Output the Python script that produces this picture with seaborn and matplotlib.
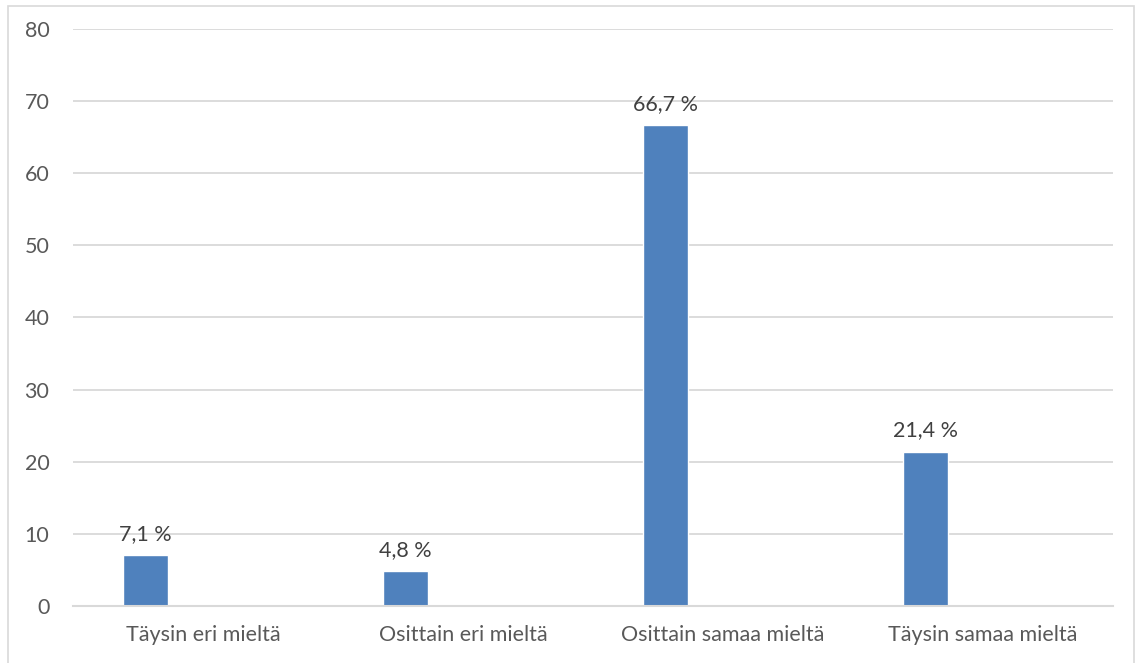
import matplotlib
matplotlib.use("Agg")
import matplotlib.pyplot as plt
import seaborn as sns
import pandas as pd
import numpy as np

# data
categories = ["Täysin eri mieltä", "Osittain eri mieltä", "Osittain samaa mieltä", "Täysin samaa mieltä"]
values = [7.1, 4.8, 66.7, 21.4]
y_ticks = [0, 10, 20, 30, 40, 50, 60, 70, 80]

BAR_COLOR = "#4f81bd"
GRID_COLOR = "#d9d9d9"
TEXT_COLOR = "#595959"
LABEL_COLOR = "#404040"

sns.set_style("white")
plt.rcParams["font.family"] = ["Lato", "DejaVu Sans"]

# Excel style: second empty series puts the real bar left of the category centre
df = pd.DataFrame({
    "kategoria": categories * 2,
    "arvo": values + [np.nan] * len(values),
    "sarja": ["a"] * len(values) + ["b"] * len(values),
})

fig = plt.figure(figsize=(11.43, 6.63), dpi=100)
ax = fig.add_axes([0.0639, 0.0860, 0.9099, 0.8703])

sns.barplot(data=df, x="kategoria", y="arvo", hue="sarja",
            palette=[BAR_COLOR, BAR_COLOR], width=0.89, gap=0.61,
            legend=False, ax=ax, saturation=1, errorbar=None)

# data labels
bars = ax.containers[0]
for patch, v in zip(bars.patches, values):
    ax.annotate(f"{v:.1f} %".replace(".", ","),
                (patch.get_x() + patch.get_width() / 2, patch.get_height()),
                xytext=(0, 8), textcoords="offset points",
                ha="center", va="bottom", fontsize=15.5, color=LABEL_COLOR)

ax.set_ylim(0, 80)
ax.set_xlim(-0.5, len(categories) - 0.5)
ax.set_yticks(y_ticks)
ax.set_xlabel("")
ax.set_ylabel("")
ax.yaxis.grid(True, color=GRID_COLOR, linewidth=1.3)
ax.set_axisbelow(True)
for s in ["top", "right", "left"]:
    ax.spines[s].set_visible(False)
ax.spines["bottom"].set_color(GRID_COLOR)
ax.spines["bottom"].set_linewidth(1.5)
ax.tick_params(axis="both", length=0, labelsize=15.5, labelcolor=TEXT_COLOR)
ax.tick_params(axis="y", pad=17)
ax.tick_params(axis="x", pad=14)

# outer chart border
fig.patches.append(plt.Rectangle((8 / 1143, -0.01), 1126 / 1143, 1 - 6 / 663 + 0.01,
                                 transform=fig.transFigure, fill=False,
                                 edgecolor=GRID_COLOR, linewidth=1.2))

fig.savefig("out.png", dpi=100)
